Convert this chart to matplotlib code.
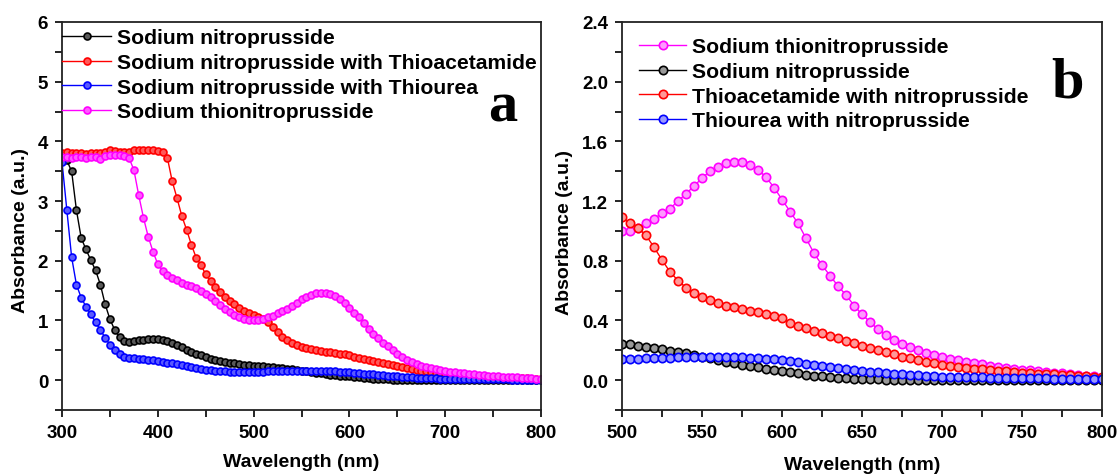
import numpy as np
import matplotlib
matplotlib.use('Agg')
import matplotlib.pyplot as plt
from matplotlib.ticker import MultipleLocator
from matplotlib.colors import to_rgb

plt.rcParams['font.family'] = ['Liberation Sans', 'DejaVu Sans']
plt.rcParams['font.weight'] = 'bold'

# wavelength grid (nm), 5 nm step
wavelength = np.arange(300, 801, 5)

# absorbance values
snp = [3.70, 3.68, 3.50, 2.85, 2.38, 2.19, 2.01, 1.84, 1.60, 1.27,   # 300-345
       1.02, 0.84, 0.72, 0.66, 0.64, 0.65, 0.665, 0.68, 0.69, 0.695,  # 350-395
       0.69, 0.675, 0.65, 0.62, 0.585, 0.55, 0.51, 0.475, 0.445, 0.415,  # 400-445
       0.385, 0.36, 0.34, 0.32, 0.305, 0.29, 0.28, 0.27, 0.26, 0.252,  # 450-495
       0.245, 0.24, 0.232, 0.224, 0.216, 0.207, 0.198, 0.19, 0.18, 0.168,  # 500-545
       0.157, 0.146, 0.135, 0.124, 0.113, 0.103, 0.094, 0.085, 0.077, 0.069,  # 550-595
       0.062, 0.053, 0.045, 0.037, 0.03, 0.025, 0.02, 0.016, 0.012, 0.01,  # 600-645
       0.008, 0.006, 0.005, 0.004, 0.003, 0.003, 0.002, 0.002, 0.002, 0.001,  # 650-695
       0.001, 0.001, 0.001, 0.001, 0.001, 0.0, 0.0, 0.0, 0.0, 0.0,  # 700-745
       0.0, 0.0, 0.0, 0.0, 0.0, 0.0, 0.0, 0.0, 0.0, 0.0,  # 750-795
       0.0]

snp_thioacetamide = [3.80, 3.82, 3.80, 3.81, 3.80, 3.79, 3.80, 3.81, 3.80, 3.83,
                     3.85, 3.84, 3.83, 3.82, 3.83, 3.85, 3.86, 3.85, 3.86, 3.85,
                     3.84, 3.82, 3.72, 3.33, 3.05, 2.75, 2.52, 2.27, 2.05, 1.93,
                     1.77, 1.66, 1.56, 1.47, 1.40, 1.33, 1.27, 1.21, 1.16, 1.12,
                     1.09, 1.05, 1.02, 0.97, 0.89, 0.805, 0.725, 0.667, 0.62, 0.585,
                     0.56, 0.535, 0.517, 0.50, 0.488, 0.476, 0.465, 0.455, 0.445, 0.432,
                     0.415, 0.383, 0.365, 0.347, 0.33, 0.313, 0.297, 0.28, 0.265, 0.248,
                     0.232, 0.215, 0.20, 0.186, 0.172, 0.158, 0.145, 0.133, 0.122, 0.112,
                     0.103, 0.096, 0.089, 0.083, 0.077, 0.072, 0.067, 0.063, 0.059, 0.055,
                     0.051, 0.047, 0.044, 0.041, 0.038, 0.035, 0.032, 0.029, 0.026, 0.023,
                     0.02]

snp_thiourea = [3.65, 2.85, 2.06, 1.60, 1.38, 1.23, 1.10, 0.97, 0.84, 0.71,
                0.59, 0.50, 0.43, 0.39, 0.37, 0.365, 0.36, 0.355, 0.345, 0.335,
                0.325, 0.31, 0.295, 0.28, 0.265, 0.25, 0.235, 0.22, 0.205, 0.19,
                0.177, 0.166, 0.157, 0.15, 0.145, 0.142, 0.14, 0.139, 0.139, 0.14,
                0.14, 0.142, 0.144, 0.146, 0.148, 0.15, 0.151, 0.152, 0.153, 0.154,
                0.155, 0.156, 0.156, 0.155, 0.154, 0.152, 0.15, 0.147, 0.143, 0.139,
                0.135, 0.127, 0.119, 0.111, 0.104, 0.096, 0.089, 0.081, 0.074, 0.068,
                0.062, 0.057, 0.052, 0.048, 0.044, 0.04, 0.036, 0.033, 0.03, 0.027,
                0.024, 0.022, 0.021, 0.02, 0.019, 0.018, 0.017, 0.016, 0.016, 0.015,
                0.014, 0.013, 0.012, 0.011, 0.01, 0.009, 0.008, 0.007, 0.006, 0.005,
                0.005]

thio_snp = [3.73, 3.74, 3.72, 3.74, 3.73, 3.72, 3.74, 3.73, 3.70, 3.75,
            3.77, 3.78, 3.77, 3.76, 3.72, 3.52, 3.10, 2.72, 2.40, 2.15,
            1.94, 1.83, 1.76, 1.71, 1.67, 1.63, 1.60, 1.57, 1.54, 1.50,
            1.45, 1.39, 1.33, 1.26, 1.20, 1.14, 1.09, 1.05, 1.03, 1.01,
            1.00, 1.00, 1.02, 1.05, 1.08, 1.12, 1.15, 1.20, 1.25, 1.30,
            1.355, 1.40, 1.43, 1.455, 1.465, 1.46, 1.445, 1.41, 1.36, 1.29,
            1.21, 1.13, 1.05, 0.95, 0.85, 0.77, 0.70, 0.63, 0.57, 0.50,
            0.44, 0.39, 0.34, 0.30, 0.27, 0.24, 0.22, 0.20, 0.18, 0.167,
            0.155, 0.143, 0.132, 0.122, 0.113, 0.105, 0.097, 0.09, 0.083, 0.077,
            0.071, 0.065, 0.06, 0.055, 0.05, 0.046, 0.042, 0.036, 0.03, 0.025,
            0.02]

colors = {'black': '#000000', 'red': '#ff0000', 'blue': '#0000ff', 'magenta': '#ff00ff'}


def light(c, f):
    r, g, b = to_rgb(c)
    return (r + (1 - r) * f, g + (1 - g) * f, b + (1 - b) * f)


def draw(ax, x, y, c, label, ms, f):
    ax.plot(x, y, '-o', color=c, lw=1.0, ms=ms, mfc=light(c, f), mec=c, mew=1.2,
            label=label)


def style(ax):
    for s in ax.spines.values():
        s.set_linewidth(1.3)
        s.set_color('#222222')
    ax.tick_params(which='both', direction='out', width=1.2, labelsize=13.5,
                   top=False, right=False)
    ax.tick_params(which='major', length=5, pad=5)
    ax.tick_params(which='minor', length=5)
    for t in ax.get_xticklabels() + ax.get_yticklabels():
        t.set_fontweight('bold')


legend_kw = dict(loc='upper left', borderaxespad=0, frameon=False, fontsize=15.2,
                 handletextpad=0.3, labelspacing=0.27, borderpad=0.3, numpoints=1)

fig = plt.figure(figsize=(11.2, 4.77), dpi=100)

# ---- panel a ----
ax1 = fig.add_axes([0.0554, 0.1384, 0.4277, 0.8134])
draw(ax1, wavelength, snp, colors['black'], 'Sodium nitroprusside', 5, 0.35)
draw(ax1, wavelength, snp_thioacetamide, colors['red'], 'Sodium nitroprusside with Thioacetamide', 5, 0.35)
draw(ax1, wavelength, snp_thiourea, colors['blue'], 'Sodium nitroprusside with Thiourea', 5, 0.35)
draw(ax1, wavelength, thio_snp, colors['magenta'], 'Sodium thionitroprusside', 5, 0.35)
ax1.set_xlim(300, 800)
ax1.set_ylim(-0.5, 6)
ax1.xaxis.set_major_locator(MultipleLocator(100))
ax1.xaxis.set_minor_locator(MultipleLocator(50))
ax1.set_yticks([0, 1, 2, 3, 4, 5, 6])
ax1.yaxis.set_minor_locator(MultipleLocator(0.5))
style(ax1)
ax1.set_xlabel('Wavelength (nm)', fontsize=14, fontweight='bold')
ax1.set_ylabel('Absorbance (a.u.)', fontsize=14, fontweight='bold')
ax1.xaxis.set_label_coords(0.499, -0.11)
ax1.yaxis.set_label_coords(-0.068, 0.466)
ax1.legend(bbox_to_anchor=(-0.0125, 1.0), handlelength=2.3, **legend_kw)
ax1.text(0.919, 0.745, 'a', transform=ax1.transAxes, ha='center', va='baseline',
         fontsize=42, fontweight='bold', family='Liberation Serif')

# ---- panel b ----
ax2 = fig.add_axes([0.5554, 0.1384, 0.4286, 0.8134])
draw(ax2, wavelength, thio_snp, colors['magenta'], 'Sodium thionitroprusside', 6, 0.6)
draw(ax2, wavelength, snp, colors['black'], 'Sodium nitroprusside', 6, 0.6)
draw(ax2, wavelength, snp_thioacetamide, colors['red'], 'Thioacetamide with nitroprusside', 6, 0.6)
draw(ax2, wavelength, snp_thiourea, colors['blue'], 'Thiourea with nitroprusside', 6, 0.6)
ax2.set_xlim(500, 800)
ax2.set_ylim(-0.2, 2.4)
ax2.xaxis.set_major_locator(MultipleLocator(50))
ax2.xaxis.set_minor_locator(MultipleLocator(25))
ax2.set_yticks([0.0, 0.4, 0.8, 1.2, 1.6, 2.0, 2.4])
ax2.yaxis.set_minor_locator(MultipleLocator(0.2))
ax2.yaxis.set_major_formatter(plt.FormatStrFormatter('%.1f'))
style(ax2)
ax2.set_xlabel('Wavelength (nm)', fontsize=14, fontweight='bold')
ax2.set_ylabel('Absorbance (a.u.)', fontsize=14, fontweight='bold')
ax2.xaxis.set_label_coords(0.501, -0.118)
ax2.yaxis.set_label_coords(-0.103, 0.461)
ax2.legend(bbox_to_anchor=(0.023, 0.977), handlelength=2.2, **legend_kw)
ax2.text(0.929, 0.807, 'b', transform=ax2.transAxes, ha='center', va='baseline',
         fontsize=42, fontweight='bold', family='Liberation Serif')

fig.savefig('out.png', dpi=100)
